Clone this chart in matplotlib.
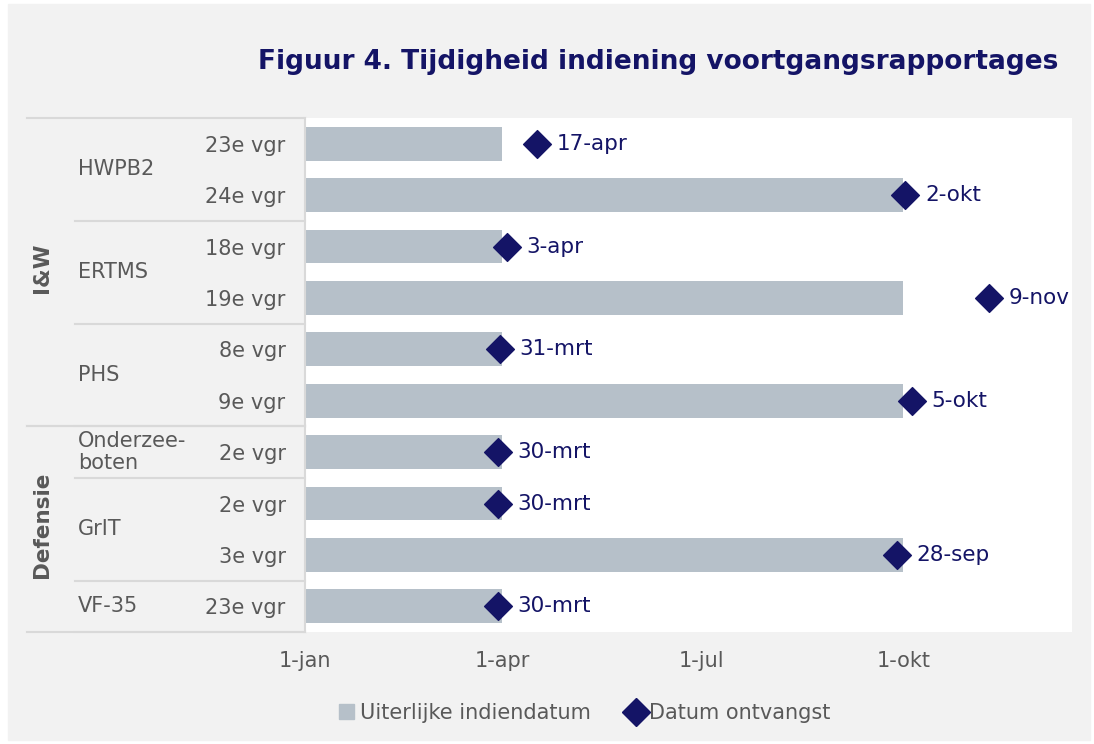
import matplotlib.pyplot as plt
from matplotlib.lines import Line2D
from matplotlib.patches import Patch

# dag van het jaar (0 = 1-jan)
rijen = ["23e vgr", "24e vgr", "18e vgr", "19e vgr", "8e vgr", "9e vgr",
         "2e vgr", "2e vgr", "3e vgr", "23e vgr"]
deadline = [90, 273, 90, 273, 90, 273, 90, 90, 273, 90]
ontvangst = [106, 274, 92, 312, 89, 277, 88, 88, 270, 88]
ontv_label = ["17-apr", "2-okt", "3-apr", "9-nov", "31-mrt", "5-okt",
              "30-mrt", "30-mrt", "28-sep", "30-mrt"]
projecten = [("HWPB2", 0, 2), ("ERTMS", 2, 4), ("PHS", 4, 6),
             ("Onderzee-\nboten", 6, 7), ("GrIT", 7, 9), ("VF-35", 9, 10)]
ministeries = [("I&W", 0, 6), ("Defensie", 6, 10)]
xticks = [0, 90, 181, 273]
xlabels = ["1-jan", "1-apr", "1-jul", "1-okt"]

plt.rcParams['font.family'] = ['DejaVu Sans']
bg = "#f2f2f2"
barkleur = "#b6c0c9"
navy = "#141466"
grijs = "#595959"
lijn = "#d9d9d9"
fs = 15

fig = plt.figure(figsize=(10.94, 7.44), dpi=100)
fig.patch.set_facecolor("white")
fig.add_artist(plt.Rectangle((8/1094, 4/744), 1082/1094, 736/744,
                             transform=fig.transFigure, color=bg, zorder=-10))

L, R, T, B = 305/1094, 1072/1094, 118/744, 632/744
ax = fig.add_axes([L, 1-B, R-L, B-T])
ax.set_facecolor("white")

n = len(rijen)
y = list(range(n))
ax.barh(y, deadline, height=0.66, color=barkleur, zorder=2)
ax.scatter(ontvangst, y, marker="D", s=200, color=navy, zorder=3)
for xi, yi, t in zip(ontvangst, y, ontv_label):
    ax.annotate(t, (xi, yi), xytext=(14, 0), textcoords="offset points",
                va="center", ha="left", fontsize=15.5, color=navy)

ax.set_xlim(0, 350)
ax.set_ylim(n-0.5, -0.5)
ax.set_xticks(xticks)
ax.set_xticklabels(xlabels, fontsize=fs, color=grijs)
ax.set_yticks(y)
ax.set_yticklabels(rijen, fontsize=fs, color=grijs)
ax.tick_params(length=0)
ax.tick_params(axis="y", pad=14)
ax.tick_params(axis="x", pad=14)
for s in ["top", "right", "bottom"]:
    ax.spines[s].set_visible(False)
ax.spines["left"].set_color(lijn)
ax.spines["left"].set_linewidth(1.5)

# linker panel met groeperingen
tr = ax.get_yaxis_transform()
x_min = -(305-27)/(1072-305)
x_proj = -(305-75)/(1072-305)
x_min_tekst = -(305-42)/(1072-305)
for naam, a, b in projecten:
    ax.plot([x_proj, 0], [b-0.5, b-0.5], transform=tr, color=lijn, lw=1.5, clip_on=False)
    ax.text(x_proj + 0.004, (a+b-1)/2, naam, transform=tr, ha="left", va="center",
            fontsize=fs, color=grijs, linespacing=1.1)
for naam, a, b in ministeries:
    ax.plot([x_min, 0], [a-0.5, a-0.5], transform=tr, color=lijn, lw=1.5, clip_on=False)
    ax.plot([x_min, 0], [b-0.5, b-0.5], transform=tr, color=lijn, lw=1.5, clip_on=False)
    ax.text(x_min_tekst, (a+b-1)/2 - 0.08, naam, transform=tr, ha="center", va="center",
            rotation=90, fontsize=15.5, fontweight="bold", color=grijs)

fig.text(1058/1094, 1-62/744, "Figuur 4. Tijdigheid indiening voortgangsrapportages",
         ha="right", va="center", fontsize=19, fontweight="bold", color=navy)

handles = [Patch(color=barkleur, label="Uiterlijke indiendatum"),
           Line2D([], [], marker="D", ls="", color=navy, markersize=14, label="Datum ontvangst")]
fig.legend(handles=handles, loc="center", bbox_to_anchor=(585/1094, 1-713/744), ncol=2,
           frameon=False, fontsize=fs, labelcolor=grijs, handlelength=0.7,
           handletextpad=0.3, columnspacing=1.8)

fig.savefig("out.png", dpi=100, facecolor=fig.get_facecolor())
